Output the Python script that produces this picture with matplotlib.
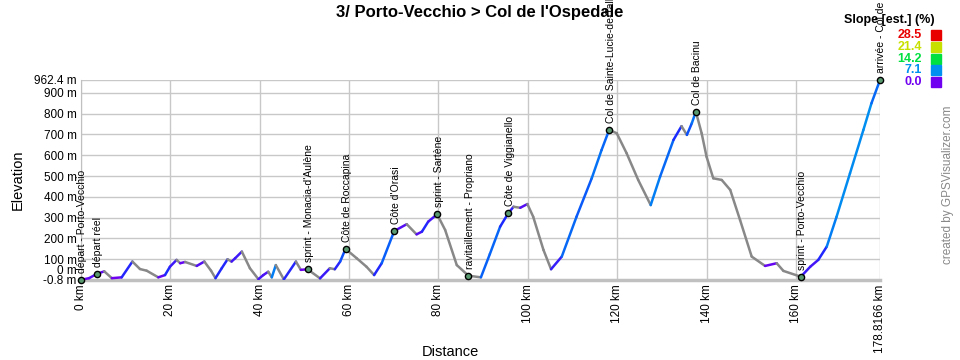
import matplotlib
matplotlib.use('Agg')
import matplotlib.pyplot as plt
import numpy as np
from matplotlib.collections import LineCollection
from matplotlib.colors import LinearSegmentedColormap
import matplotlib.transforms as mtransforms

plt.rcParams['font.family'] = ['Liberation Sans', 'DejaVu Sans']

# profile (km, m)
dist_km = [0, 1.8, 3.5, 5.2, 6.9, 9.1, 11.5, 13.2, 14.7, 17.3, 18.8, 19.9, 21.4, 22.2, 23.3,
           25.9, 27.6, 29.1, 30.1, 31.5, 32.8, 33.7, 34.5, 36.0, 37.8, 39.7, 40.8, 41.9, 42.7,
           43.6, 45.4, 48.1, 49.2, 50.7, 53.5, 55.7, 56.8, 58.0, 59.2, 61.7, 63.9, 65.6, 67.3,
           70.1, 72.9, 75.1, 76.3, 77.7, 79.7, 81.5, 84.1, 86.7, 89.5, 91.5, 93.8, 95.6, 96.8,
           98.3, 99.9, 101.2, 103.5, 105.2, 107.6, 110.9, 114.3, 116.5, 118.2, 119.9, 122.1,
           124.7, 127.5, 129.6, 132.6, 134.4, 135.6, 136.7, 137.6, 138.9, 140.0, 141.5, 143.4,
           145.3, 147.5, 150.1, 153.1, 155.7, 157.2, 161.1, 163.2, 165.0, 166.9, 169.1, 172.1,
           175.1, 176.9, 178.8166]
elev_m = [0, 8, 28, 41, 8, 12, 88, 52, 44, 12, 23, 63, 96, 80, 86,
          67, 88, 44, 8, 56, 99, 88, 104, 136, 56, 3, 23, 39, 12,
          71, 2, 88, 48, 51, 7, 56, 51, 88, 149, 104, 63, 23, 80,
          235, 268, 219, 232, 280, 316, 240, 71, 20, 12, 124, 256, 320, 352,
          347, 365, 304, 144, 51, 112, 304, 489, 625, 722, 706, 610,
          481, 360, 497, 674, 740, 698, 754, 810, 706, 593, 489, 481,
          433, 288, 112, 67, 80, 43, 15, 63, 96, 160, 304, 513,
          722, 850, 962.4]

wp_names = ["départ - Porto-Vecchio", "départ réel", "sprint - Monacia-d'Aulène",
            "Côte de Roccapina", "Côte d'Orasi", "sprint - Sartène",
            "ravitaillement - Propriano", "Côte de Viggianello",
            "Col de Sainte-Lucie-de-Tallano", "Col de Bacinu",
            "sprint - Porto-Vecchio", "arrivée - Col de l'Ospedale"]
wp_km = [0, 3.5, 50.7, 59.2, 70.1, 79.7, 86.7, 95.6, 118.2, 137.6, 161.1, 178.8166]
wp_elev = [0, 28, 51, 149, 235, 316, 20, 320, 722, 810, 15, 962.4]

x_ticks = [0, 20, 40, 60, 80, 100, 120, 140, 160, 178.8166]
x_labels = ['0 km', '20 km', '40 km', '60 km', '80 km', '100 km', '120 km',
            '140 km', '160 km', '178.8166 km']
y_ticks = [-0.8, 0, 100, 200, 300, 400, 500, 600, 700, 800, 900, 962.4]
y_labels = ['-0.8 m', '0 m', '100 m', '200 m', '300 m', '400 m', '500 m', '600 m',
            '700 m', '800 m', '900 m', '962.4 m']

legend_vals = [28.5, 21.4, 14.2, 7.1, 0.0]
legend_cols = ['#e80000', '#c8e000', '#00e040', '#0090f0', '#7000f0']

slope_cmap = LinearSegmentedColormap.from_list('slope', [
    (0.0, '#7000f0'), (4 / 28.5, '#1030ff'), (7.1 / 28.5, '#0090f0'),
    (10 / 28.5, '#00d8d0'), (14.2 / 28.5, '#00e040'), (21.4 / 28.5, '#c8e000'),
    (1.0, '#e80000')])

fig = plt.figure(figsize=(9.6, 3.6), dpi=100)
ax = fig.add_axes([81 / 960, 80 / 360, 799 / 960, 200 / 360])

x = np.array(dist_km)
y = np.array(elev_m)
pts = np.column_stack([x, y]).reshape(-1, 1, 2)
segs = np.concatenate([pts[:-1], pts[1:]], axis=1)
slope = np.diff(y) / (np.diff(x) * 1000) * 100
colors = []
for s in slope:
    if s < 0:
        colors.append('#888888')
    else:
        colors.append(slope_cmap(min(s, 28.5) / 28.5))
lc = LineCollection(segs, colors=colors, linewidths=1.8, capstyle='round', zorder=3)
ax.add_collection(lc)

ax.scatter(wp_km, wp_elev, s=20, facecolor='#5a9a70', edgecolor='black',
           linewidth=1.0, zorder=5, clip_on=False)
for name, km, el in zip(wp_names, wp_km, wp_elev):
    ax.annotate(name, (km, el), xytext=(1, 5), textcoords='offset points',
                rotation=90, ha='center', va='bottom', fontsize=7.5,
                annotation_clip=False, zorder=6)

ax.set_xlim(0, 178.8166)
ax.set_ylim(-0.8, 962.4)
ax.set_xticks(x_ticks)
ax.set_xticklabels(x_labels, rotation=90, fontsize=8.5)
ax.set_yticks(y_ticks)
ax.set_yticklabels(y_labels, fontsize=8.5)
ax.tick_params(length=0, pad=3)
# "0 m" sits a bit above its line so it does not overlap "-0.8 m"
lbl = ax.get_yticklabels()[1]
lbl.set_transform(lbl.get_transform() + mtransforms.ScaledTranslation(0, 10 / 100, fig.dpi_scale_trans))

ax.grid(True, color='#c8c8c8', linewidth=1.0, zorder=0)
ax.set_axisbelow(True)
for side in ['top', 'right']:
    ax.spines[side].set_visible(False)
ax.spines['left'].set_color('#c0c0c0')
ax.spines['bottom'].set_color('#c0c0c0')
ax.spines['bottom'].set_linewidth(2.5)

fig.text(450 / 960, 1 - 352 / 360, 'Distance', ha='center', va='center', fontsize=10.5)
fig.text(18 / 960, 1 - 180 / 360, 'Elevation', ha='center', va='center', fontsize=10.5,
         rotation=90)

fig.text(480 / 960, 1 - 12 / 360, "3/ Porto-Vecchio > Col de l'Ospedale", ha='center', va='center',
         fontsize=12, fontweight='bold')

fig.text(935 / 960, 1 - 20 / 360, 'Slope [est.] (%)', ha='right', va='center',
         fontsize=9, fontweight='bold')
for i, (v, c) in enumerate(zip(legend_vals, legend_cols)):
    yy = 1 - (35 + i * 11.8) / 360
    fig.text(922 / 960, yy, f'{v:.1f}', ha='right', va='center', fontsize=9,
             fontweight='bold', color=c)
    fig.patches.append(plt.Rectangle((931 / 960, yy - 5 / 360), 10 / 960, 10 / 360,
                                     transform=fig.transFigure, color=c))

fig.text(948 / 960, 1 - 185 / 360, 'created by GPSVisualizer.com', rotation=90,
         ha='center', va='center', fontsize=8.5, color='#888888')

fig.savefig('out.png', dpi=100)
